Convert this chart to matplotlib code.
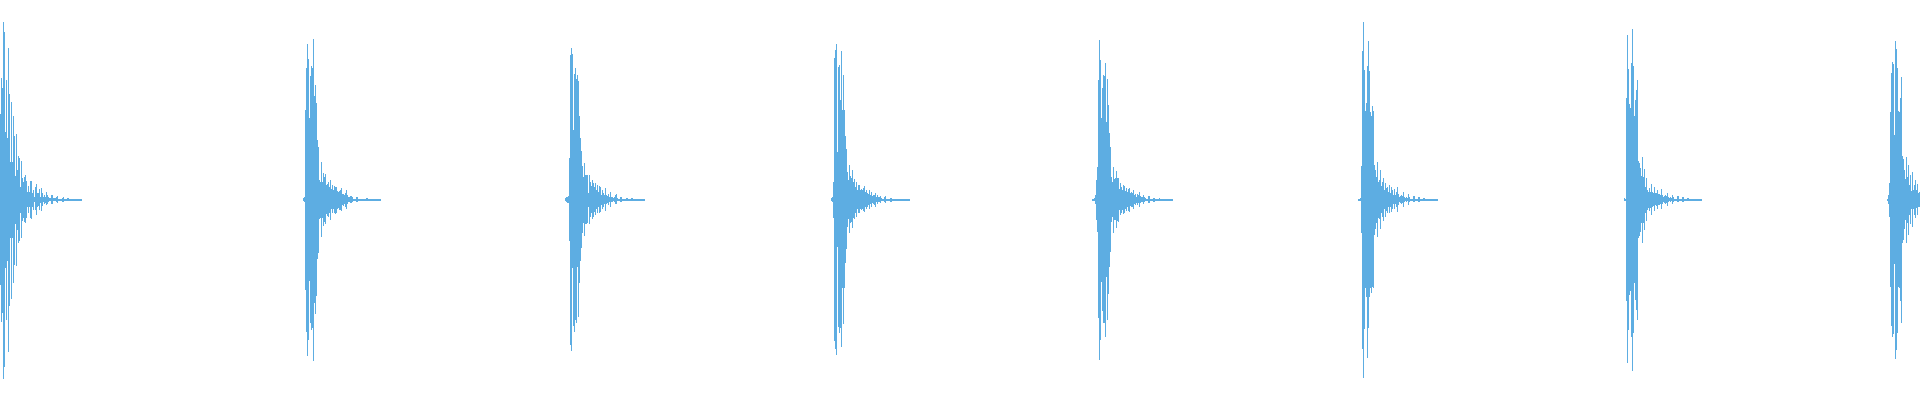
import numpy as np
import matplotlib
matplotlib.use("Agg")
import matplotlib.pyplot as plt

# waveform envelope, one value per frame (percent of full scale)
# each hit: onset frame, positive peak, negative peak (magnitude)
onsets = [0, 303, 565, 831, 1092, 1358, 1624, 1887]

hit1_top = [43, 61, 56, 89, 84, 34, 60, 31, 76, 53, 19, 49, 19, 42, 32, 12, 33, 15, 22, 21,
            6.5, 19.5, 11, 9, 11.5, 12.5, 9.5, 4.2, 7, 4.2, 9.5, 9.5, 3.7, 5, 1.7, 6.3, 7.8, 3.7, 3.3, 5.5,
            1.3, 5.8, 3.3, 1.3, 2.5, 1.7, 4, 2.5, 1.3, 1, 0.8, 2.3, 2.5, 1, 0.8, 0.8, 1.7, 2, 0.7, 0.5,
            0.7, 0.7, 1.2, 1.5, 0.7, 0.5, 0.5, 1, 1, 0.5, 0.5, 0.5, 0.5, 0.7, 0.7, 0, 0, 0, 0, 0, 0, 0]
hit1_bot = [42.5, 61, 56.5, 89.5, 83.5, 34, 60, 30.5, 76, 53, 19, 49.5, 19, 41.5, 32.5, 12, 33, 15, 21.5, 20.5,
            6.5, 19, 10.5, 9, 11, 11.5, 9.2, 3.3, 6.7, 3.3, 9.2, 9.3, 3.7, 5, 0.8, 5, 7.5, 3.3, 2.8, 5,
            1.3, 5.3, 3, 1, 2, 1.3, 2.3, 2, 0.8, 0.7, 0.3, 2, 2, 0.7, 0.5, 0.5, 1, 1.3, 0.3, 0.3,
            0.3, 0.3, 0.8, 1, 0.3, 0.2, 0.2, 0.5, 0.5, 0.2, 0.2, 0.2, 0.2, 0.3, 0.3, 0, 0, 0, 0, 0, 0, 0]

hit2_top = [1, 1.7, 45, 66, 78, 70.5, 41, 62, 67, 66, 80.5, 52, 57.5, 48.5, 30, 26.5, 10, 9, 19, 9.2,
            13.5, 11.5, 13.2, 7.5, 8.2, 9, 6.7, 10, 5.5, 7.5, 4.8, 7.2, 6.7, 6.7, 4.7, 4.2, 4.5, 5, 5.8, 3,
            3, 2.5, 3.7, 5, 2.5, 1.7, 1.7, 2.2, 2.2, 1.7, 0.7, 0.7, 0.7, 1.7, 1.7, 0.7, 0.5, 0.5, 0.7, 0.7,
            0.5, 0.5, 0.5, 0.8, 1, 0.7, 0.5, 0, 0, 0, 0, 0, 0, 0, 0, 0, 0, 0]
hit2_bot = [0.3, 1, 45, 66, 78, 70, 40.5, 61.5, 65, 64, 80.5, 51.5, 57, 48, 29.5, 26.5, 9.5, 9.2, 18.5, 9.2,
            13, 11, 12.2, 7, 8, 8.3, 6.7, 10, 4.7, 6.7, 4.5, 6.7, 7, 6.7, 4.3, 4.2, 4.8, 5, 5.3, 2.5,
            2.8, 2, 3.7, 4.5, 2, 1.2, 1.2, 1.7, 1.7, 0.8, 0.3, 0.3, 0.3, 1, 1, 0.3, 0.2, 0.2, 0.3, 0.3,
            0.2, 0.2, 0.2, 0.5, 0.5, 0.3, 0.2, 0, 0, 0, 0, 0, 0, 0, 0, 0, 0, 0]

hit3_top = [1, 1.3, 1.7, 2, 21, 72.5, 76, 73, 35, 63, 66, 60.5, 62.5, 59.5, 42, 31, 24.5, 17, 11.5, 18.5,
            12.5, 12.5, 12.5, 3.7, 12.5, 9.2, 7, 10, 8.7, 6.7, 8.3, 5, 7.5, 3.8, 7, 6.3, 2.5, 5, 3.7, 2.5,
            5.8, 2.5, 2, 3, 1.7, 3.8, 1.7, 1.7, 0.8, 1.7, 2.5, 3, 1, 0.5, 0.7, 1.7, 1.7, 0.7, 0.5, 0.5,
            0.5, 1, 1, 0.5, 0.3, 0.3, 0.8, 0.8, 0, 0, 0, 0, 0, 0, 0, 0, 0, 0, 0, 0]
hit3_bot = [0.5, 1, 1.3, 1.7, 20.5, 72.5, 75.5, 34, 63, 66, 60, 61.5, 33.5, 58.5, 41.5, 30.5, 24, 16.5, 11.5, 18,
            12, 12, 11.7, 3.5, 12, 8.3, 6.7, 9.3, 8.3, 5.8, 7.5, 4.7, 6.7, 3.3, 6.7, 5.8, 2.5, 4.3, 3.3, 2.2,
            5.3, 2, 1.3, 2.7, 1.2, 3.3, 0.8, 1, 0.3, 1, 2, 2.2, 0.7, 0.2, 0.3, 1.2, 1.2, 0.3, 0.2, 0.2,
            0.2, 0.7, 0.7, 0.2, 0.2, 0.2, 0.5, 0.5, 0, 0, 0, 0, 0, 0, 0, 0, 0, 0, 0, 0]

hit4_top = [0.8, 1.7, 9, 71, 75, 78, 24, 66.5, 67.5, 50, 74.5, 45, 62.5, 45, 32, 25.5, 14, 10, 17.5, 12,
            11.2, 15, 9.2, 10.5, 6.7, 9.2, 5, 7.5, 7.5, 5, 5.7, 5, 5.8, 7, 4.2, 5, 3.7, 3, 5, 2.5,
            4, 2, 2.3, 2.5, 3.7, 1.7, 2.5, 1.7, 1.3, 2, 1, 0.7, 0.7, 1.7, 2, 0.7, 0.5, 0.5, 0.7, 1.2,
            1.2, 0.5, 0.3, 0.3, 0.7, 0.7, 0, 0, 0, 0, 0, 0, 0, 0, 0, 0, 0, 0, 0]
hit4_bot = [0.3, 1, 9, 70.5, 74.5, 77.5, 23.5, 63.5, 66.5, 64, 73.5, 44, 62, 44, 31.5, 24.5, 13.5, 9.3, 16.5, 11.3,
            10.8, 14, 9.2, 9.7, 6.7, 8.3, 4.5, 6.7, 6.7, 4.5, 5, 4.7, 5.5, 5.8, 3.7, 4.5, 3.3, 2.5, 4.5, 2,
            3.3, 1.7, 2, 2.3, 3.3, 1.2, 2, 1, 0.8, 1.3, 0.7, 0.3, 0.3, 1, 1.3, 0.3, 0.2, 0.2, 0.3, 0.8,
            0.8, 0.2, 0.2, 0.2, 0.3, 0.3, 0, 0, 0, 0, 0, 0, 0, 0, 0, 0, 0, 0, 0]

hit5_top = [0.5, 0.5, 1.2, 2.5, 10, 16.5, 60, 80, 70, 41, 56, 62.5, 62, 68.5, 39, 60.5, 47.5, 33.5, 26.5, 11.5,
            9, 16.5, 10.5, 10.8, 14.5, 10.8, 11.2, 5.3, 8.3, 6.7, 5, 7.5, 7, 4.7, 5.8, 4.2, 5.7, 6.2, 3.3, 4,
            3.7, 5, 2.5, 2.8, 1.7, 3, 2.5, 4, 2, 1.3, 1.3, 2.5, 1.7, 0.8, 0.7, 0.7, 2, 2, 0.7, 0.5,
            0.5, 1.2, 1.2, 0.7, 0.5, 0.5, 0.7, 1, 0.5, 0.3, 0.3, 0.3, 0.7, 0.7, 0, 0, 0, 0, 0, 0, 0]
hit5_bot = [0.2, 0.2, 0.7, 2.2, 10, 16, 59, 80, 70, 41, 55.5, 61.5, 61.5, 68.5, 38.5, 60, 47, 33.5, 26, 10.8,
            8.3, 16.5, 10, 10, 14.2, 10.3, 10.8, 5, 7.5, 6.7, 5, 7, 6.7, 4.3, 5.3, 3.7, 5.3, 5.8, 2.8, 3.3,
            3.3, 4.7, 2.2, 2.3, 1.3, 2.7, 1.7, 3.3, 1.3, 1, 0.8, 2, 1.2, 0.5, 0.3, 0.3, 1.3, 1.3, 0.3, 0.2,
            0.2, 0.8, 0.8, 0.3, 0.2, 0.2, 0.3, 0.5, 0.2, 0.2, 0.2, 0.2, 0.3, 0.3, 0, 0, 0, 0, 0, 0, 0]

hit6_top = [0.5, 0.5, 1, 17, 74.5, 89, 65, 44.5, 48.5, 67, 79.5, 64.5, 44, 42, 47, 44.5, 17.5, 15, 11.5, 19,
            9.2, 10, 15, 7, 9.2, 10.8, 5, 8.3, 5.8, 6.7, 4.2, 7.3, 3.7, 6.7, 5, 2.5, 5.3, 2.5, 4.2, 6.7,
            3, 1.7, 2, 2.5, 2, 3.8, 1.7, 1.2, 1.7, 1, 2.8, 1.7, 0.5, 0.5, 0.7, 1.8, 1.8, 0.7, 0.5, 0.5,
            1.3, 1.3, 0.5, 0.3, 0.3, 1, 1, 0.3, 0, 0, 0, 0, 0, 0, 0, 0, 0, 0, 0, 0]
hit6_bot = [0.2, 0.2, 0.5, 16.5, 74.5, 89, 64.5, 44, 48.5, 79, 64, 48.5, 44, 46.5, 43.5, 44, 17.5, 14.5, 11.5, 18.5,
            9.2, 9.5, 14.7, 6.7, 8.3, 10.5, 4.5, 8.3, 5.3, 6.7, 3.7, 6.7, 3.3, 6.2, 4.3, 2.2, 4.7, 2, 3.7, 6.2,
            2.5, 1.2, 1.7, 2, 1.7, 3.3, 1, 0.7, 1, 0.7, 2.3, 1, 0.2, 0.2, 0.3, 1.2, 1.2, 0.3, 0.2, 0.2,
            0.8, 0.8, 0.2, 0.2, 0.2, 0.5, 0.5, 0.2, 0, 0, 0, 0, 0, 0, 0, 0, 0, 0, 0, 0]

hit7_top = [1, 0.7, 51, 82.5, 65.5, 48, 46, 68.5, 85.5, 67, 42, 50, 55, 60, 19.5, 18.5, 16, 12, 21.5, 11.7,
            15.5, 6.7, 10.8, 5, 4.2, 5.8, 4.2, 7.8, 4, 3.7, 6.3, 3.3, 3.3, 5, 2.8, 3, 2.5, 5.3, 2.7, 1.7,
            2, 2.7, 2, 3.7, 1.7, 1.2, 1.7, 0.8, 2.7, 1.7, 0.5, 0.5, 0.7, 1.8, 1.8, 0.7, 0.5, 0.5, 1.3, 1.3,
            0.5, 0.3, 0.3, 1, 1, 0.3, 0, 0, 0, 0, 0, 0, 0, 0, 0, 0, 0, 0]
hit7_bot = [0.5, 0.3, 50.5, 81.5, 65, 47.5, 45.5, 68.5, 85.5, 66.5, 41.5, 50, 55, 60, 19, 18, 16, 11.7, 21.5, 11.3,
            15, 6.7, 10.5, 5, 4.2, 5.3, 4.2, 7.5, 3.7, 3, 5.5, 2.7, 2.8, 4.3, 2.3, 2.5, 2, 4.7, 2.2, 1.2,
            1.7, 2, 1.3, 3, 1, 0.7, 1, 0.3, 2.2, 1, 0.2, 0.2, 0.3, 1.2, 1.2, 0.3, 0.2, 0.2, 0.8, 0.8,
            0.2, 0.2, 0.2, 0.5, 0.5, 0.2, 0, 0, 0, 0, 0, 0, 0, 0, 0, 0, 0, 0]

hit8_top = [0.5, 2.5, 8.5, 44, 63.5, 69, 68, 32.5, 79.5, 75.5, 66, 44.5, 44, 51, 61.5, 22, 20.5, 15, 10.5, 21.5,
            11.7, 17.5, 7.5, 12.5, 4.7, 14.2, 5, 7.5, 10, 5, 7.8, 3.7, 4.2]
hit8_bot = [0.2, 2, 8.5, 43.5, 63, 68.5, 67, 32, 79.5, 75, 66.5, 43.5, 44, 50.5, 61.5, 21.5, 20, 14.5, 10, 21.5,
            11.3, 17.5, 7.5, 12, 4.5, 13.7, 4.5, 7.5, 9.2, 4.2, 7.5, 3.7, 3.3]

tops = [hit1_top, hit2_top, hit3_top, hit4_top, hit5_top, hit6_top, hit7_top, hit8_top]
bots = [hit1_bot, hit2_bot, hit3_bot, hit4_bot, hit5_bot, hit6_bot, hit7_bot, hit8_bot]

color = "#5dade2"
floor = 0.3  # keeps the silent tail visible as a hairline

fig = plt.figure(figsize=(19.2, 4), dpi=100)
ax = fig.add_axes([0, 0, 1, 1])

for start, top, bot in zip(onsets, tops, bots):
    top = np.maximum(np.array(top, dtype=float), floor)
    bot = np.maximum(np.array(bot, dtype=float), floor)
    edges = start + np.arange(len(top) + 1)
    ax.stairs(top, edges, baseline=-bot, fill=True, color=color, linewidth=0)

ax.set_xlim(0, 1920)
ax.set_ylim(-100, 100)
ax.axis("off")

fig.savefig("out.png", dpi=100, facecolor="white")
